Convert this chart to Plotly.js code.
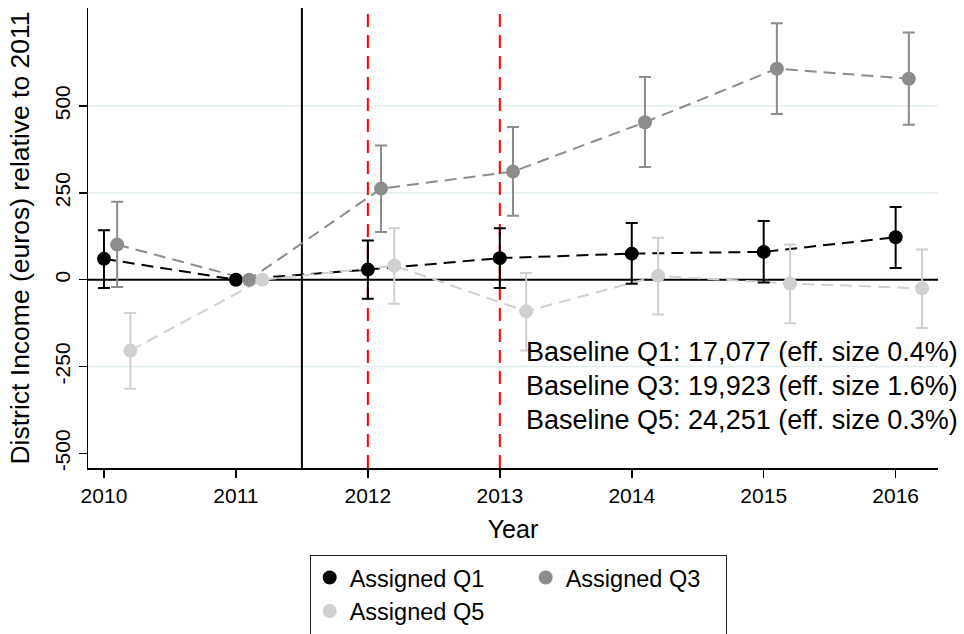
<!DOCTYPE html>
<html><head><meta charset="utf-8">
<script src="https://cdn.plot.ly/plotly-3.0.1.min.js"></script>
<style>body{margin:0;background:#fff}</style>
</head><body><div id="chart" style="width:964px;height:634px"></div>
<script>
const years = [2010, 2011, 2012, 2013, 2014, 2015, 2016];
const q1Est  = [60, 0, 29, 62, 75, 80, 122];
const q1Low  = [-24, null, -55, -24, -12, -8, 34];
const q1High = [142, null, 113, 148, 163, 169, 209];
const q3Est  = [101, 0, 262, 311, 453, 607, 578];
const q3Low  = [-21, null, 137, 184, 324, 477, 446];
const q3High = [224, null, 386, 439, 583, 738, 711];
const q5Est  = [-204, 0, 40, -91, 11, -11, -25];
const q5Low  = [-314, null, -69, -204, -100, -125, -139];
const q5High = [-96, null, 148, 19, 121, 101, 87];
const seriesNames = ['Assigned Q1', 'Assigned Q3', 'Assigned Q5'];
const yTicks = [-500, -250, 0, 250, 500];
const gridValues = [-250, 250, 500];
const treatmentYear = 2011.5;
const eventYears = [2012, 2013];
const noteLines = [
  'Baseline Q1: 17,077 (eff. size 0.4%)',
  'Baseline Q3: 19,923 (eff. size 1.6%)',
  'Baseline Q5: 24,251 (eff. size 0.3%)'
];

const FONT = 'Liberation Sans, Arial, Helvetica, sans-serif';

function lineTrace(est, offset, color) {
  return {
    type: 'scatter', mode: 'lines', showlegend: false, hoverinfo: 'skip',
    x: years.map(y => y + offset), y: est,
    line: {color: color, width: 2, dash: '12px,7px'}
  };
}
function pointTrace(name, est, lo, hi, offset, color, group, lw) {
  return {
    type: 'scatter', mode: 'markers', name: name,
    legendgroup: group, legendwidth: lw,
    x: years.map(y => y + offset), y: est,
    marker: {color: color, size: 14},
    error_y: {
      type: 'data', symmetric: false, visible: true,
      array: hi.map((v, i) => v == null ? NaN : v - est[i]),
      arrayminus: lo.map((v, i) => v == null ? NaN : est[i] - v),
      color: color, thickness: 2, width: 6
    }
  };
}

const traces = [
  lineTrace(q1Est, 0, '#000000'),
  lineTrace(q3Est, 0.1, '#8c8c8c'),
  lineTrace(q5Est, 0.2, '#d0d0d0'),
  pointTrace(seriesNames[0], q1Est, q1Low, q1High, 0, '#000000', 'a', 171),
  pointTrace(seriesNames[1], q3Est, q3Low, q3High, 0.1, '#8c8c8c', 'b', 155),
  pointTrace(seriesNames[2], q5Est, q5Low, q5High, 0.2, '#d0d0d0', 'a', 171)
];

const shapes = [];
gridValues.forEach(v => shapes.push({type: 'line', xref: 'paper', x0: 0, x1: 1, yref: 'y', y0: v, y1: v,
  line: {color: '#e2eef0', width: 1.5}, layer: 'below'}));
shapes.push({type: 'line', xref: 'paper', x0: 0, x1: 1, yref: 'y', y0: 0, y1: 0,
  line: {color: '#000', width: 2}, layer: 'below'});
shapes.push({type: 'line', xref: 'x', x0: treatmentYear, x1: treatmentYear, yref: 'paper', y0: 0, y1: 1,
  line: {color: '#000', width: 2}, layer: 'below'});
eventYears.forEach(v => shapes.push({type: 'line', xref: 'x', x0: v, x1: v, yref: 'paper', y0: 0, y1: 1,
  line: {color: '#ff0000', width: 2, dash: '13px,8px'}, layer: 'below'}));

const annotations = noteLines.map((t, i) => ({
  text: t, xref: 'paper', yref: 'y', x: 0.513, y: -207 - 98 * i,
  xanchor: 'left', yanchor: 'middle', showarrow: false,
  font: {family: FONT, size: 27, color: '#000'}
}));

const layout = {
  width: 964, height: 634,
  margin: {l: 88, r: 26, t: 8, b: 166, autoexpand: false},
  paper_bgcolor: '#fff', plot_bgcolor: '#fff',
  font: {family: FONT, color: '#000'},
  showlegend: true,
  xaxis: {
    range: [2009.879, 2016.321], tickvals: years, ticktext: years.map(String),
    ticks: 'outside', ticklen: 8, tickwidth: 1.5, tickcolor: '#000', automargin: false,
    showline: true, linecolor: '#000', linewidth: 1.5, showgrid: false, zeroline: false,
    tickfont: {family: FONT, size: 21},
    title: {text: 'Year', font: {family: FONT, size: 25}, standoff: 15}
  },
  yaxis: {
    range: [-541.7, 781.6], tickvals: yTicks, ticktext: yTicks.map(String), tickangle: -90,
    ticks: 'outside', ticklen: 8, tickwidth: 1.5, tickcolor: '#000', automargin: false,
    showline: true, linecolor: '#000', linewidth: 1.5, showgrid: false, zeroline: false,
    tickfont: {family: FONT, size: 21},
    title: {text: 'District Income (euros) relative to 2011', font: {family: FONT, size: 26.5}, standoff: 14}
  },
  legend: {
    orientation: 'h', traceorder: 'grouped', x: 0.2608, xanchor: 'left', y: -0.1885, yanchor: 'top',
    bordercolor: '#222', borderwidth: 1, bgcolor: '#fff',
    font: {family: FONT, size: 23.5}, itemwidth: 30, tracegroupgap: 0
  },
  shapes: shapes,
  annotations: annotations
};

Plotly.newPlot('chart', traces, layout, {displayModeBar: false, staticPlot: true});
</script>
</body></html>
